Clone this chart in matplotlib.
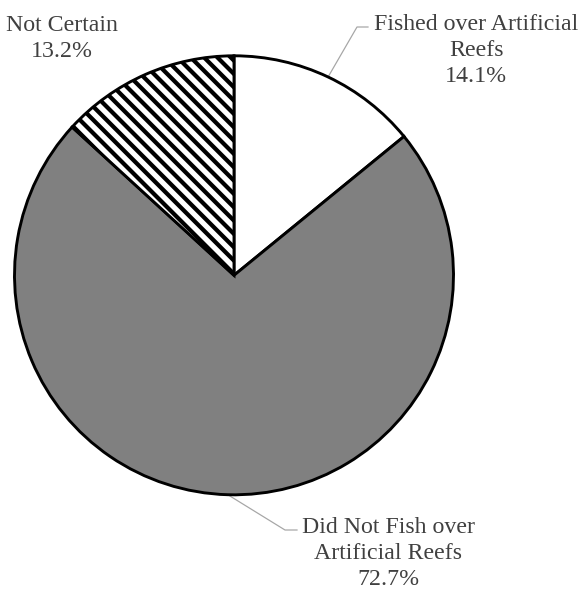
import matplotlib

matplotlib.use("Agg")

import matplotlib.pyplot as plt
import numpy as np

# survey answers, percent of respondents
labels = ["Fished over Artificial\nReefs", "Did Not Fish over\nArtificial Reefs", "Not Certain"]
shares = [14.1, 72.7, 13.2]
fills = ["white", "#808080", "white"]
hatches = ["", "", "\\\\"]

TEXT = "#404040"
LEADER = "#a6a6a6"

plt.rcParams["font.family"] = "serif"
plt.rcParams["font.serif"] = ["Liberation Serif"]
plt.rcParams["hatch.linewidth"] = 3.8

DPI = 80
W, H = 581, 590
fig = plt.figure(figsize=(W / DPI, H / DPI), dpi=DPI)
ax = fig.add_axes([0, 0, 1, 1])

cx, cy, r = 234, H - 275.3, 219.5
wedges, _ = ax.pie(
    shares,
    colors=fills,
    startangle=90,
    counterclock=False,
    center=(cx, cy),
    radius=r,
    frame=True,
    wedgeprops={"edgecolor": "black", "linewidth": 2.6},
)
ax.set_xlim(0, W)
ax.set_ylim(0, H)
ax.set_aspect("equal")
ax.axis("off")
for w, h in zip(wedges, hatches):
    w.set_hatch(h)

# label placement (image px: text centre x, last baseline y) and leader elbows
label_pos = [(476, 82), (388, 585), (62, 57)]
elbows = [[(357, 27), (368, 27)], [(285, 530), (297, 530)], None]

for w, lab, val, (tx, ty), elb in zip(wedges, labels, shares, label_pos, elbows):
    ax.text(tx, H - ty, f"{lab}\n{val:.1f}%", ha="center", va="baseline",
            multialignment="center", fontsize=21.5, color=TEXT, linespacing=1.3,
            family="Liberation Serif")
    if elb is None:
        continue
    mid = np.deg2rad((w.theta1 + w.theta2) / 2)
    xs = [cx + r * np.cos(mid)] + [p[0] for p in elb]
    ys = [cy + r * np.sin(mid)] + [H - p[1] for p in elb]
    ax.plot(xs, ys, color=LEADER, linewidth=1.1, zorder=0.5)

fig.savefig("out.png", dpi=DPI)
